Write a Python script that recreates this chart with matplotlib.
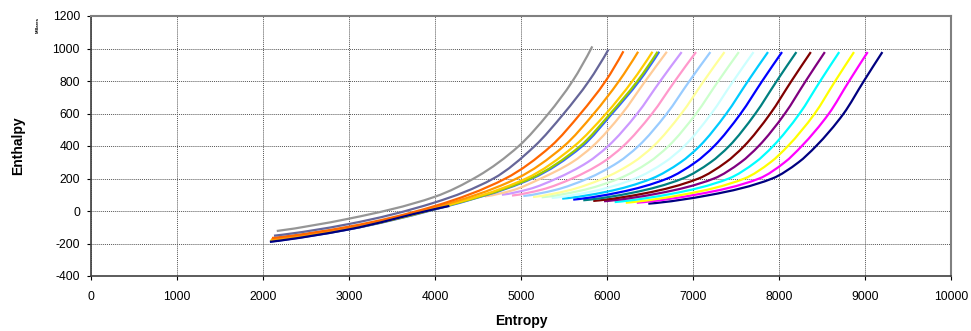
import numpy as np
import matplotlib
matplotlib.use("Agg")
import matplotlib.pyplot as plt
from matplotlib.path import Path
from matplotlib.patches import PathPatch

plt.rcParams['font.family'] = ['Liberation Sans', 'DejaVu Sans']

# ---- data: each series is a list of (entropy, enthalpy in thousands) points ----
colors = ['#000080', '#FF00FF', '#FFFF00', '#00FFFF', '#800080', '#800000', '#008080',
          '#0000FF', '#00CCFF', '#CCFFFF', '#CCFFCC', '#FFFF99', '#99CCFF', '#FF99CC',
          '#CC99FF', '#FFCC99', '#3366FF', '#99CC00', '#FFCC00', '#FF9900', '#FF6600',
          '#666699', '#969696', '#000080']

s_navy = [6480, 7201, 7922, 8228, 8432, 8752, 8987, 9202]
h_navy = [45, 99, 200, 300, 400, 600, 800, 978]
s_magenta = [6346, 7058, 7770, 8067, 8265, 8581, 8816, 9031]
h_magenta = [51, 103, 200, 300, 400, 600, 800, 978]
s_yellow = [6218, 6908, 7599, 7902, 8104, 8416, 8654, 8872]
h_yellow = [51, 103, 200, 300, 400, 600, 800, 978]
s_cyan = [6089, 6753, 7417, 7726, 7932, 8240, 8480, 8700]
h_cyan = [55, 106, 200, 300, 400, 600, 800, 978]
s_purple = [5965, 6604, 7244, 7556, 7764, 8069, 8311, 8533]
h_purple = [60, 109, 200, 300, 400, 600, 800, 978]
s_maroon = [5840, 6452, 7065, 7383, 7595, 7900, 8145, 8370]
h_maroon = [62, 110, 200, 300, 400, 600, 800, 978]
s_teal = [5724, 6302, 6881, 7205, 7421, 7726, 7974, 8202]
h_teal = [66, 113, 200, 300, 400, 600, 800, 978]
s_blue = [5607, 6154, 6702, 7029, 7247, 7555, 7805, 8035]
h_blue = [70, 116, 200, 300, 400, 600, 800, 978]
s_sky = [5479, 6001, 6523, 6856, 7078, 7388, 7640, 7872]
h_sky = [76, 119, 200, 300, 400, 600, 800, 978]
s_lcyan = [5357, 5843, 6329, 6671, 6899, 7214, 7469, 7704]
h_lcyan = [80, 122, 200, 300, 400, 600, 800, 978]
s_lgreen = [5240, 5691, 6142, 6487, 6717, 7037, 7295, 7533]
h_lgreen = [84, 125, 200, 300, 400, 600, 800, 978]
s_lyellow = [5140, 5548, 5956, 6307, 6541, 6866, 7126, 7366]
h_lyellow = [86, 126, 200, 300, 400, 600, 800, 978]
s_lblue = [5027, 5402, 5776, 6130, 6366, 6696, 6959, 7202]
h_lblue = [92, 130, 200, 300, 400, 600, 800, 978]
s_pink = [4895, 5245, 5595, 5952, 6190, 6525, 6790, 7035]
h_pink = [95, 132, 200, 300, 400, 600, 800, 978]
s_lav = [4778, 5096, 5414, 5774, 6014, 6352, 6620, 6868]
h_lav = [100, 135, 200, 300, 400, 600, 800, 978]
s_tan = [4580, 4906, 5231, 5594, 5836, 6176, 6446, 6696]
h_tan = [90, 128, 200, 300, 400, 600, 800, 980]
s_b3366 = [2082, 3000, 4000, 5130, 5715, 6060, 6375, 6607]
h_b3366 = [-188, -113, 10, 200, 400, 600, 800, 980]
s_lime = [2085, 3000, 4000, 5110, 5690, 6040, 6354, 6588]
h_lime = [-185, -111, 12, 200, 400, 600, 800, 980]
s_gold = [2090, 3000, 4000, 5060, 5620, 5990, 6296, 6529]
h_gold = [-180, -108, 15, 200, 400, 600, 800, 980]
s_lorange = [2095, 3000, 4000, 4950, 5500, 5848, 6140, 6362]
h_lorange = [-175, -103, 22, 200, 400, 600, 800, 980]
s_orange = [2105, 3000, 4000, 4820, 5350, 5693, 5984, 6191]
h_orange = [-166, -96, 31, 200, 400, 600, 800, 983]
s_slate = [2128, 3000, 4000, 4680, 5160, 5498, 5790, 6016]
h_slate = [-152, -80, 53, 200, 400, 600, 800, 993]
s_gray = [2160, 3000, 4000, 4500, 4975, 5320, 5600, 5829]
h_gray = [-123, -47, 88, 215, 400, 600, 800, 1013]
s_liq = [2080, 3000, 4000, 4167]
h_liq = [-190, -113, 12, 31]

series_s = [s_navy, s_magenta, s_yellow, s_cyan, s_purple, s_maroon, s_teal, s_blue,
            s_sky, s_lcyan, s_lgreen, s_lyellow, s_lblue, s_pink, s_lav, s_tan,
            s_b3366, s_lime, s_gold, s_lorange, s_orange, s_slate, s_gray, s_liq]
series_h = [h_navy, h_magenta, h_yellow, h_cyan, h_purple, h_maroon, h_teal, h_blue,
            h_sky, h_lcyan, h_lgreen, h_lyellow, h_lblue, h_pink, h_lav, h_tan,
            h_b3366, h_lime, h_gold, h_lorange, h_orange, h_slate, h_gray, h_liq]

xticks = list(range(0, 10001, 1000))
yticks = list(range(-400, 1201, 200))


def pchip_slopes(x, y):
    x = np.asarray(x, float); y = np.asarray(y, float)
    h = np.diff(x); d = np.diff(y) / h
    n = len(x); m = np.zeros(n)
    if n == 2:
        m[:] = d[0]
        return m
    for k in range(1, n - 1):
        if d[k - 1] * d[k] <= 0:
            m[k] = 0
        else:
            w1 = 2 * h[k] + h[k - 1]; w2 = h[k] + 2 * h[k - 1]
            m[k] = (w1 + w2) / (w1 / d[k - 1] + w2 / d[k])

    def end(h0, h1, d0, d1):
        v = ((2 * h0 + h1) * d0 - h0 * d1) / (h0 + h1)
        if np.sign(v) != np.sign(d0):
            v = 0
        elif np.sign(d0) != np.sign(d1) and abs(v) > abs(3 * d0):
            v = 3 * d0
        return v
    m[0] = end(h[0], h[1], d[0], d[1])
    m[-1] = end(h[-1], h[-2], d[-1], d[-2])
    return m


def smooth_path(x, y):
    x = np.asarray(x, float); y = np.asarray(y, float)
    m = pchip_slopes(x, y)
    verts = [(x[0], y[0])]; codes = [Path.MOVETO]
    for i in range(len(x) - 1):
        hh = (x[i + 1] - x[i]) / 3.0
        verts += [(x[i] + hh, y[i] + hh * m[i]),
                  (x[i + 1] - hh, y[i + 1] - hh * m[i + 1]),
                  (x[i + 1], y[i + 1])]
        codes += [Path.CURVE4] * 3
    return Path(verts, codes)


W, H = 971, 331
fig = plt.figure(figsize=(W / 100, H / 100), dpi=100)
ax = fig.add_axes([91 / W, 1 - 276 / H, 860 / W, 260 / H])

for s, h, c in zip(series_s, series_h, colors):
    ax.add_patch(PathPatch(smooth_path(s, h), fill=False, edgecolor=c, lw=1.6,
                           capstyle='butt', zorder=3))

ax.set_xlim(0, 10000)
ax.set_ylim(-400, 1200)
ax.set_xticks(xticks)
ax.set_yticks(yticks)
ax.set_xticklabels([str(v) for v in xticks], fontsize=8.7)
ax.set_yticklabels([str(v) for v in yticks], fontsize=8.7)
ax.tick_params(direction='out', length=3, width=0.8, color='black')
ax.tick_params(axis='x', pad=8)
ax.tick_params(axis='y', pad=5)
ax.grid(True, color='#555555', linestyle=(0, (1, 1)), linewidth=0.7, zorder=1)
ax.set_axisbelow(True)
for side in ['top', 'right']:
    ax.spines[side].set_color('#808080')
    ax.spines[side].set_linewidth(1.5)
for side in ['left', 'bottom']:
    ax.spines[side].set_color('#404040')
    ax.spines[side].set_linewidth(1.2)

fig.text(521 / W, 1 - 321 / H, 'Entropy', fontsize=10, fontweight='bold',
         ha='center', va='center')
fig.text(18 / W, 1 - 146 / H, 'Enthalpy', fontsize=10, fontweight='bold',
         rotation=90, ha='center', va='center')
fig.text(38 / W, 1 - 25 / H, 'Millares', rotation=90, fontsize=3.2,
         fontweight='bold', ha='center', va='center')

fig.savefig('out.png', dpi=100)
